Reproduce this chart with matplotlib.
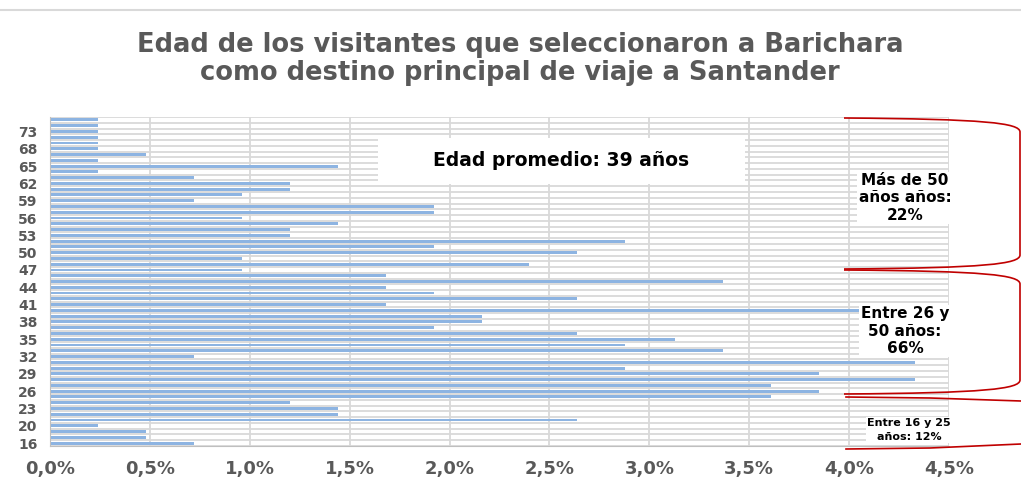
import matplotlib
matplotlib.use("Agg")
import matplotlib.pyplot as plt
from matplotlib.path import Path
from matplotlib.patches import PathPatch
from matplotlib.ticker import FuncFormatter, FixedLocator

# ---- data ----
ages = [16, 18, 19] + list(range(20, 69)) + [70, 71, 73, 74, 75]
pct = [0.72, 0.48, 0.48, 0.24, 2.64, 1.44, 1.44, 1.20, 3.61, 3.85,
       3.61, 4.33, 3.85, 2.88, 4.33, 0.72, 3.37, 2.88, 3.13, 2.64,
       1.92, 2.16, 2.16, 4.09, 1.68, 2.64, 1.92, 1.68, 3.37, 1.68,
       0.96, 2.40, 0.96, 2.64, 1.92, 2.88, 1.20, 1.20, 1.44, 0.96,
       1.92, 1.92, 0.72, 0.96, 1.20, 1.20, 0.72, 0.24, 1.44, 0.24,
       0.48, 0.24, 0.24, 0.24, 0.24, 0.24, 0.24]
x_ticks = [0.0, 0.5, 1.0, 1.5, 2.0, 2.5, 3.0, 3.5, 4.0, 4.5]
title = "Edad de los visitantes que seleccionaron a Barichara\ncomo destino principal de viaje a Santander"
avg_text = "Edad promedio: 39 años"
grp_texts = ["Más de 50\naños años:\n22%", "Entre 26 y\n50 años:\n66%", "Entre 16 y 25\naños: 12%"]

W, H = 1021, 487
fig = plt.figure(figsize=(W / 100, H / 100), dpi=100)
plt.rcParams['font.family'] = ['DejaVu Sans']

def fx(px):
    return px / W

def fy(py):
    return 1 - py / H

ax = fig.add_axes([fx(50), fy(446), fx(949) - fx(50), fy(117) - fy(446)])
pos = list(range(len(ages)))
ax.barh(pos, pct, height=0.5, color='#8DB4E2', zorder=3)
ax.set_xlim(0, 4.5)
ax.set_ylim(-0.5, len(ages) - 0.5)

# gridlines
for v in x_ticks:
    ax.axvline(v, color='#D9D9D9', lw=1.3, zorder=1)
for i in range(len(ages) + 1):
    ax.axhline(i - 0.5, color='#D9D9D9', lw=1.3, zorder=1)

for s in ['top', 'right']:
    ax.spines[s].set_visible(False)
ax.spines['left'].set_color('#BFBFBF')
ax.spines['bottom'].set_color('#BFBFBF')
ax.spines['left'].set_zorder(4)

ax.xaxis.set_major_locator(FixedLocator(x_ticks))
ax.xaxis.set_major_formatter(FuncFormatter(lambda v, p: f"{v:.1f}%".replace('.', ',')))
ytick_pos = pos[::3]
ax.set_yticks(ytick_pos)
ax.set_yticklabels([str(ages[i]) for i in ytick_pos])
ax.tick_params(axis='x', length=0, pad=10, labelsize=13, labelcolor='#595959')
ax.tick_params(axis='y', length=0, pad=9, labelsize=10, labelcolor='#595959')
for lbl in ax.get_xticklabels() + ax.get_yticklabels():
    lbl.set_fontweight('bold')

# title
fig.text(fx(520), fy(59), title, ha='center', va='center', fontsize=18.5,
         fontweight='bold', color='#595959', linespacing=1.1)

# top thin line
fig.add_artist(plt.Line2D([0, 1], [fy(10), fy(10)], color='#D9D9D9', lw=1.5))

# average box
fig.patches.append(plt.Rectangle((fx(378), fy(184)), fx(745) - fx(378), fy(138) - fy(184),
                                 transform=fig.transFigure, facecolor='white',
                                 edgecolor='none', zorder=5))
fig.text(fx(561), fy(161), avg_text, ha='center', va='center', fontsize=13.5,
         fontweight='bold', color='black', zorder=6)

# group labels
fig.text(fx(905), fy(198), grp_texts[0], ha='center', va='center', fontsize=11,
         fontweight='bold', color='black', linespacing=1.2,
         bbox=dict(facecolor='white', edgecolor='none', pad=1), zorder=6)
fig.text(fx(905), fy(331), grp_texts[1], ha='center', va='center', fontsize=11,
         fontweight='bold', color='black', linespacing=1.2,
         bbox=dict(facecolor='white', edgecolor='none', pad=1), zorder=6)
fig.text(fx(909), fy(430), grp_texts[2], ha='center', va='center', fontsize=8,
         fontweight='bold', color='black', linespacing=1.4,
         bbox=dict(facecolor='white', edgecolor='none', pad=1), zorder=6)

# red braces (figure pixel coordinates)
ov = fig.add_axes([0, 0, 1, 1], facecolor='none')
ov.set_xlim(0, W)
ov.set_ylim(H, 0)
ov.axis('off')

def brace(y0, y1, xr=1020, xl=844):
    verts = [(xl, y0), (985, y0 + 1), (xr, y0 + 5), (xr, y0 + 14),
             (xr, y1 - 14),
             (xr, y1 - 5), (985, y1 - 1), (xl, y1)]
    codes = [Path.MOVETO, Path.CURVE4, Path.CURVE4, Path.CURVE4,
             Path.LINETO,
             Path.CURVE4, Path.CURVE4, Path.CURVE4]
    ov.add_patch(PathPatch(Path(verts, codes), facecolor='none',
                           edgecolor='#C00000', lw=1.2))

brace(118, 269)
brace(270, 394)
ov.plot([846, 930, 1021], [397, 398, 401], color='#C00000', lw=1.2)
ov.plot([846, 930, 1021], [449, 448, 444], color='#C00000', lw=1.2)

fig.savefig('out.png', dpi=100)
